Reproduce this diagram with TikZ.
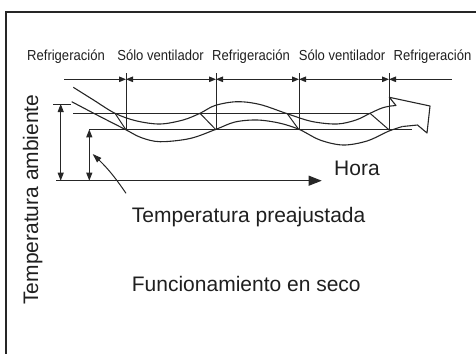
\documentclass[tikz,border=0pt]{standalone}
\usepackage{fontspec}
\setmainfont{Liberation Sans}
\newfontfamily\narrowsans[FakeStretch=0.9]{Liberation Sans}
\usetikzlibrary{arrows.meta}

\tikzset{
    bigtext/.style={font=\fontsize{21}{25}\selectfont, text=black!88, inner sep=0pt},
    modelabel/.style={font=\narrowsans\fontsize{14.5}{17}\selectfont, text=black!88, inner sep=0pt, anchor=base},
    thinline/.style={black!85, line width=1pt},
    wave/.style={black!85, line width=1.1pt, line join=round},
}

\begin{document}
\begin{tikzpicture}[x=1pt, y=-1pt, >={Triangle[length=7pt,width=5.5pt]}]
    \useasboundingbox (0,0) rectangle (476,354);

    % Draw frame
    \draw[black!85, line width=2pt] (476,11.7) -- (6,11.7) -- (6,354);

    % Mode labels
    \foreach \cx/\txt [count=\i] in {66/Refrigeración, 160.5/Sólo ventilador, 251/Refrigeración, 342/Sólo ventilador, 432.5/Refrigeración} {
        \node[modelabel] (mode\i) at (\cx,60) {\txt};
    }

    % Draw switching lines and dimension line
    \coordinate (d0) at (64,79.3);
    \coordinate (d5) at (452,79.3);
    \foreach \x [count=\i] in {126,216,299,389} {
        \coordinate (d\i) at (\x,79.3);
        \coordinate (top\i) at (\x,73);
        \coordinate (bot\i) at (\x,130);
        \draw[thinline] (top\i) -- (bot\i);
    }
    \draw[thinline, ->] (d0) -- (d1);
    \foreach \i/\j in {1/2,2/3,3/4} {
        \draw[thinline, <->] (d\i) -- (d\j);
    }
    \draw[thinline, <-] (d4) -- (d5);

    % Draw reference levels
    \coordinate (upA) at (73,113.3);
    \coordinate (upB) at (370,113.3);
    \coordinate (setA) at (89.3,129.3);
    \coordinate (setB) at (411.7,129.3);
    \draw[thinline] (upA) -- (upB);
    \draw[thinline] (setA) -- (setB);

    % Draw time axis and temperature arrows
    \coordinate (origin) at (56,180.7);
    \coordinate (timeend) at (321.7,180.7);
    \coordinate (ambtop) at (60.7,104);
    \coordinate (ambbot) at (60.7,180.7);
    \coordinate (setbot) at (89.3,180.7);
    \draw[thinline, -{Triangle[length=13pt,width=10pt]}] (origin) -- (timeend);
    \draw[thinline] (53,104) -- (71,104);
    \draw[thinline, {Triangle[length=8pt,width=6pt]}-{Triangle[length=8pt,width=6pt]}] (ambtop) -- (ambbot);
    \draw[thinline, {Triangle[length=8pt,width=6pt]}-{Triangle[length=8pt,width=6pt]}] (setA) -- (setbot);

    % Draw upper temperature curve with arrow end
    \draw[wave] plot[smooth, tension=0.55] coordinates {
        (73.3,87.3) (94,100.3) (115,113.3) (136,120.8) (160,124) (183,120)
        (200,113.3) (215,105.5) (237,101.7) (260,104.5) (288,114) (312,121.5)
        (337,124) (356,120) (370,113.3) (382,108) (390.7,106)}
        -- (396,105.5) -- (389.3,97.3) -- (430,106) -- (427,133) -- (417.5,125) -- (402.5,126.5);

    % Draw lower temperature curve
    \draw[wave] plot[smooth, tension=0.55] coordinates {
        (71.7,101.7) (98,115.5) (125,129.3) (141,137.5) (160,141.7) (190,138.5)
        (216,129.3) (235,122) (257,120) (279,123) (299,129.3) (320,140)
        (343,145) (367,141) (389,131) (402.5,126.5)};

    % Draw transition diagonals
    \foreach \xa/\xb in {115/126,200/216,287/299,370/389} {
        \draw[thinline] (\xa,113.3) -- (\xb,129.8);
    }

    % Labels
    \node[bigtext, rotate=90, anchor=base] (ambient) at (38,199.5) {Temperatura ambiente};
    \node[bigtext, anchor=base west] (hora) at (334,175) {Hora};
    \node[bigtext, anchor=base west] (preset) at (131.7,222.7) {Temperatura preajustada};
    \node[bigtext, anchor=base west] (dry) at (131.7,291.5) {Funcionamiento en seco};

    % Pointer to set temperature
    \coordinate (ptrtail) at (126,193.3);
    \coordinate (ptrhead) at (92.7,154);
    \draw[thinline, -{Triangle[length=9pt,width=6pt]}] (ptrtail) to[bend right=6] (ptrhead);
\end{tikzpicture}
\end{document}
